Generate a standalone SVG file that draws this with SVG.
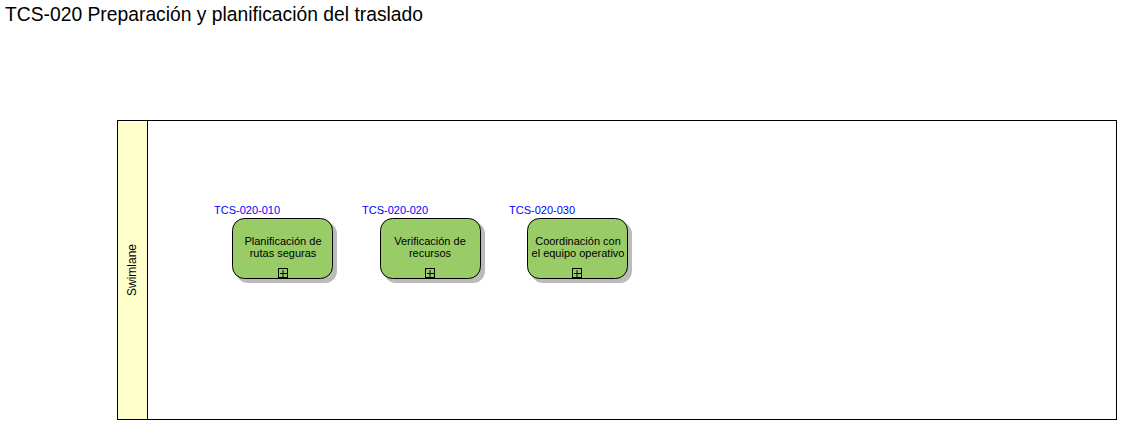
<svg xmlns="http://www.w3.org/2000/svg" width="1123" height="426" viewBox="0 0 1123 426">
<defs>
<style>
.t{font-family:"Liberation Sans",Arial,sans-serif;}
.box{fill:#99CC66;stroke:#000;stroke-width:1;}
.sh{fill:#BBBBBB;}
.lbl{font-size:11px;fill:#0000FF;}
.txt{font-size:11px;fill:#000;text-anchor:middle;}
.pl{fill:none;stroke:#000;stroke-width:1;}
</style>
</defs>
<rect width="1123" height="426" fill="#fff"/>
<text class="t" x="5" y="21" font-size="19.3" fill="#000">TCS-020 Preparación y planificación del traslado</text>
<g id="swimlane">
<rect x="117.5" y="120.5" width="999" height="299" fill="#fff" stroke="#000"/>
<rect x="117.5" y="120.5" width="30" height="299" fill="#FFFFCC" stroke="#000"/>
<text class="t" font-size="12" text-anchor="middle" transform="translate(136,270) rotate(-90)">Swimlane</text>
</g>
<g id="connectors"></g>
<g id="n1">
<rect class="sh" x="236" y="222" width="101" height="61" rx="12"/>
<rect class="box" x="232.5" y="218.5" width="100" height="60" rx="12"/>
<text class="t lbl" x="214" y="214">TCS-020-010</text>
<text class="t txt" x="283" y="245">Planificación de</text>
<text class="t txt" x="283" y="257">rutas seguras</text>
<rect class="pl" x="278.5" y="268.5" width="9" height="9"/>
<path class="pl" d="M283 270v7M280 273.5h7"/>
</g>
<g id="n2">
<rect class="sh" x="384" y="222" width="101" height="61" rx="12"/>
<rect class="box" x="380.5" y="218.5" width="100" height="60" rx="12"/>
<text class="t lbl" x="362" y="214">TCS-020-020</text>
<text class="t txt" x="430" y="245">Verificación de</text>
<text class="t txt" x="430" y="257">recursos</text>
<rect class="pl" x="425.5" y="268.5" width="9" height="9"/>
<path class="pl" d="M430 270v7M427 273.5h7"/>
</g>
<g id="n3">
<rect class="sh" x="531" y="222" width="101" height="61" rx="12"/>
<rect class="box" x="527.5" y="218.5" width="100" height="60" rx="12"/>
<text class="t lbl" x="509" y="214">TCS-020-030</text>
<text class="t txt" x="578" y="245">Coordinación con</text>
<text class="t txt" x="578" y="257">el equipo operativo</text>
<rect class="pl" x="572.5" y="268.5" width="9" height="9"/>
<path class="pl" d="M577 270v7M574 273.5h7"/>
</g>
</svg>
